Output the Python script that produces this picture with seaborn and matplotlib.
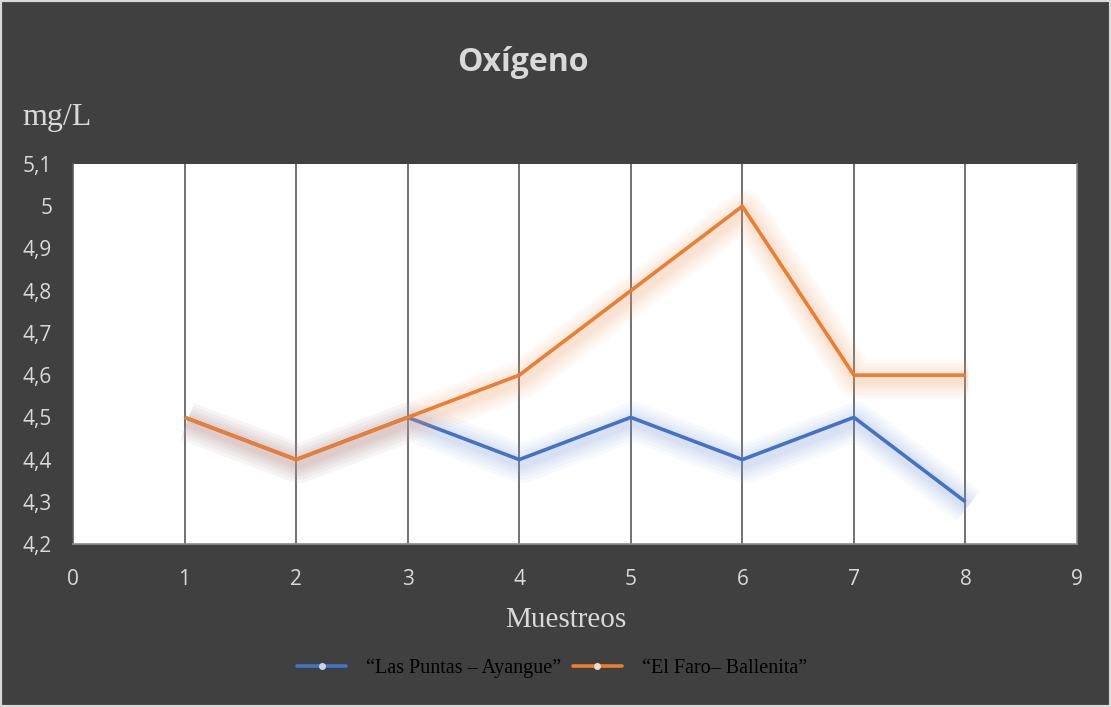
import matplotlib
matplotlib.use("Agg")
import matplotlib.pyplot as plt
import matplotlib.patheffects as pe
from matplotlib.lines import Line2D
from matplotlib.patches import Rectangle
from matplotlib.ticker import FuncFormatter
import seaborn as sns
import pandas as pd

# Sampling campaigns and dissolved oxygen readings (mg/L)
muestreos = [1, 2, 3, 4, 5, 6, 7, 8]
las_puntas = [4.5, 4.4, 4.5, 4.4, 4.5, 4.4, 4.5, 4.3]
el_faro = [4.5, 4.4, 4.5, 4.6, 4.8, 5.0, 4.6, 4.6]
series_names = ["\u201cLas Puntas \u2013 Ayangue\u201d", "\u201cEl Faro\u2013 Ballenita\u201d"]
y_ticks = [4.2, 4.3, 4.4, 4.5, 4.6, 4.7, 4.8, 4.9, 5.0, 5.1]
x_ticks = list(range(0, 10))

BG = "#404040"
BLUE = "#4472c4"
ORANGE = "#ed7d31"
TXT = "#d9d9d9"
SERIF = ["Liberation Serif", "DejaVu Serif"]

df = pd.DataFrame({
    "Muestreo": muestreos * 2,
    "Oxigeno": las_puntas + el_faro,
    "Sitio": [series_names[0]] * len(muestreos) + [series_names[1]] * len(muestreos),
})

sns.set_theme(style="white")
plt.rcParams["font.family"] = ["Open Sans", "DejaVu Sans"]

fig = plt.figure(figsize=(11.11, 7.07), dpi=100, facecolor=BG)
ax = fig.add_axes([0.0657, 0.2305, 0.9037, 0.5375])
ax.set_facecolor("white")

sns.lineplot(data=df, x="Muestreo", y="Oxigeno", hue="Sitio",
             palette=[BLUE, ORANGE], linewidth=2.6, ax=ax, legend=False,
             sort=False, zorder=3)

# soft glow beneath each series
glow = {0: "#7f9fe0", 1: "#f3a26a"}
for i, line in enumerate(ax.get_lines()):
    effects = []
    for w in [28, 23, 18, 14, 10, 7]:
        effects.append(pe.Stroke(linewidth=w, foreground=glow[i], alpha=0.055,
                                 offset=(2, -3)))
    effects.append(pe.Normal())
    line.set_path_effects(effects)
    line.set_solid_capstyle("butt")

ax.set_xlim(0, 9)
ax.set_ylim(4.2, 5.1)
ax.set_xticks(x_ticks)
ax.set_yticks(y_ticks)

def comma(v, _):
    s = f"{v:.1f}"
    if s.endswith(".0"):
        s = s[:-2]
    return s.replace(".", ",")

ax.yaxis.set_major_formatter(FuncFormatter(comma))
ax.tick_params(axis="both", colors=TXT, labelsize=15, length=0)
ax.tick_params(axis="y", pad=15)
ax.tick_params(axis="x", pad=18)
for t in ax.get_xticklabels() + ax.get_yticklabels():
    t.set_color(TXT)

for x in muestreos:
    ax.axvline(x, color="#595959", lw=1.2, zorder=1)

for s in ax.spines.values():
    s.set_visible(True)
    s.set_color("#8c8c8c")
    s.set_linewidth(1.2)
ax.spines["left"].set_color("#595959")
ax.spines["top"].set_visible(False)

ax.set_xlabel("")
ax.set_ylabel("")

fig.text(0.471, 0.912, "Ox\u00edgeno", ha="center", va="center",
         fontsize=23, fontweight="bold", color=TXT)
fig.text(0.020, 0.834, "mg/L", ha="left", va="center",
         fontsize=23, color=TXT, family=SERIF)
fig.text(0.509, 0.123, "Muestreos", ha="center", va="center",
         fontsize=21, color=TXT, family=SERIF)

handles = [
    Line2D([], [], color=BLUE, lw=2.6, marker="o", markersize=4,
           markerfacecolor="#c9d3ea", markeredgecolor="#c9d3ea"),
    Line2D([], [], color=ORANGE, lw=2.6, marker="o", markersize=4,
           markerfacecolor="#f6d8c3", markeredgecolor="#f6d8c3"),
]
leg = fig.legend(handles, series_names, loc="center", bbox_to_anchor=(0.497, 0.055),
                 ncol=2, frameon=False, handlelength=2.4, handletextpad=1.0,
                 columnspacing=0.6, labelcolor="#000000",
                 prop={"family": SERIF, "size": 14.5})

fig.patches.append(Rectangle((0, 0), 1, 1, transform=fig.transFigure,
                             fill=False, edgecolor="#d9d9d9", lw=3, zorder=10))

fig.savefig("out.png", dpi=100, facecolor=BG)
